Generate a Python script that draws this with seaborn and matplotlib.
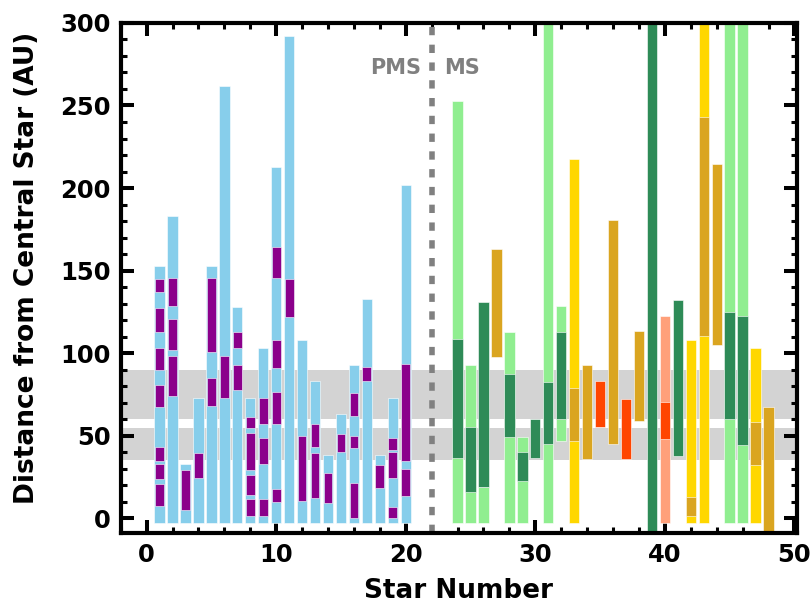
import numpy as np
import pandas as pd
import matplotlib
matplotlib.use("Agg")
import matplotlib.pyplot as plt
import seaborn as sns
from matplotlib.ticker import MultipleLocator

# PMS stars: full sky-blue bars
pms_star = list(range(1, 21))
pms_top = [153, 183, 33, 73, 153, 262, 128, 73, 103, 213,
           292, 108, 83, 38, 63, 93, 133, 38, 73, 202]
bar_floor = -3

# purple segments inside the PMS bars
purple_star = [1, 1, 1, 1, 1, 1, 1,
               2, 2, 2,
               3, 4,
               5, 5,
               6,
               7, 7,
               8, 8, 8, 8,
               9, 9, 9,
               10, 10, 10, 10,
               11, 12,
               13, 13,
               14, 15,
               16, 16, 16,
               17, 18,
               19, 19, 19,
               20, 20]
purple_lo = [137, 112.6, 89.9, 67.3, 34.8, 23.5, 7.3,
             128.4, 102.1, 74.1,
             4.9, 24.1,
             100.4, 68.2,
             73.1,
             103.1, 77.8,
             54.5, 29.2, 14, 1.4,
             57.1, 32.8, 1.4,
             145.2, 90.9, 57.1, 9.9,
             121.9, 10.5,
             43.3, 12,
             9.3, 40.3,
             62, 42.3, 0,
             83.4, 18,
             41.3, 24.1, 0,
             34.8, 13.4]
purple_hi = [144.6, 127.4, 103.1, 80.4, 43, 32.8, 20.7,
             145.2, 120.9, 98.4,
             29.2, 39.3,
             145.2, 85.2,
             98.4,
             112.6, 93,
             61.2, 51.5, 26.1, 11.4,
             73.1, 48.8, 11.4,
             164.2, 107.7, 76.7, 17.6,
             144.6, 49.8,
             57.1, 39.3,
             27.2, 50.9,
             75.7, 49.8, 21.4,
             91.5, 32.2,
             48.8, 39.9, 6.5,
             93.6, 29.8]

# MS stars: outer ranges
ms_star = [24, 25, 26, 28, 29, 31, 32, 33, 40, 42, 43, 45, 46, 47]
ms_lo = [-3, -3, -3, -3, -3, -3, 46.8, -3, -3, -3, -3, -3, -3, -3]
ms_hi = [253, 92.5, 18.6, 113, 49, 310, 128.4, 217.5, 122.7, 107.7, 310, 310, 310, 103]
ms_color = ['#90EE90', '#90EE90', '#90EE90', '#90EE90', '#90EE90', '#90EE90', '#90EE90',
            '#FFD700', '#FFA07A', '#FFD700', '#FFD700', '#90EE90', '#90EE90', '#FFD700']

# MS stars: inner ranges
in_star = [24, 25, 26, 27, 28, 29, 30, 31, 32, 33, 34, 35, 36, 37, 38,
           39, 40, 41, 42, 43, 44, 45, 46, 47, 48]
in_lo = [36.2, 16, 18.6, 97.6, 49, 22.5, 36.2, 44.8, 60, 46.8, 35.8, 55.5, 45, 35.8, 59.1,
         -15, 47.8, 37.7, 1.4, 110.6, 105.1, 60, 44.3, 32.2, -15]
in_hi = [108.5, 55.1, 131, 163.2, 87.3, 40.3, 60, 82.4, 112.6, 78.8, 92.5, 83.4, 180.6, 72.1, 113.2,
         310, 70.3, 132, 12.9, 242.8, 214.5, 124.7, 122.7, 58.1, 67.6]
in_color = ['#2E8B57', '#2E8B57', '#2E8B57', '#DAA520', '#2E8B57', '#2E8B57', '#2E8B57',
            '#2E8B57', '#2E8B57', '#DAA520', '#DAA520', '#FF4500', '#DAA520', '#FF4500',
            '#DAA520', '#2E8B57', '#FF4500', '#2E8B57', '#DAA520', '#DAA520', '#DAA520',
            '#2E8B57', '#2E8B57', '#DAA520', '#DAA520']

bands = [(60, 90), (35.5, 54.5)]

sns.set_style("ticks")
plt.rcParams['font.family'] = ['DejaVu Sans']
plt.rcParams['font.weight'] = 'bold'
for key in ['text.color', 'axes.labelcolor', 'xtick.color', 'ytick.color', 'axes.edgecolor']:
    plt.rcParams[key] = 'black'

fig = plt.figure(figsize=(8.1, 6.04), dpi=100)
ax = fig.add_axes([0.149, 0.1175, 0.835, 0.8445])


def draw_segments(ax, seg, bw):
    seg = seg.sort_values('star', kind='stable').copy()
    seg['k'] = seg.groupby('star').cumcount()
    for (c, k), sub in seg.groupby(['color', 'k'], sort=False):
        xs = np.unique(sub['star'])
        nw = np.diff(xs).min() if len(xs) > 1 else 1
        sns.barplot(x=sub['star'].to_numpy(), y=(sub['hi'] - sub['lo']).to_numpy(),
                    bottom=sub['lo'].to_numpy(), native_scale=True, orient='x',
                    width=bw / nw, color=c, saturation=1, errorbar=None,
                    edgecolor='white', linewidth=0.4, ax=ax)


pms = pd.DataFrame({'star': pms_star, 'lo': bar_floor,
                    'hi': pms_top, 'color': '#87CEEB'})
purple = pd.DataFrame({'star': purple_star, 'lo': purple_lo,
                       'hi': purple_hi, 'color': '#8B008B'})
ms_out = pd.DataFrame({'star': ms_star, 'lo': ms_lo, 'hi': ms_hi, 'color': ms_color})
ms_in = pd.DataFrame({'star': in_star, 'lo': in_lo, 'hi': in_hi, 'color': in_color})

for b in bands:
    ax.axhspan(b[0], b[1], color='#D3D3D3', zorder=0.5, lw=0)

draw_segments(ax, pms, 0.8)
draw_segments(ax, purple, 0.68)
draw_segments(ax, ms_out, 0.8)
draw_segments(ax, ms_in, 0.8)

ax.axvline(22, color='#808080', lw=4, ls=(0, (1.5, 1.7)), zorder=3)
ax.text(21.15, 273, 'PMS', ha='right', va='center', color='#808080',
        fontsize=15, fontweight='bold')
ax.text(23.0, 273, 'MS', ha='left', va='center', color='#808080',
        fontsize=15, fontweight='bold')

ax.set_xlim(-2, 50.2)
ax.set_ylim(-9, 300)
ax.xaxis.set_major_locator(MultipleLocator(10))
ax.xaxis.set_minor_locator(MultipleLocator(2))
ax.yaxis.set_major_locator(MultipleLocator(50))
ax.yaxis.set_minor_locator(MultipleLocator(10))
ax.tick_params(which='both', direction='in', top=True, right=True,
               labelsize=17.5, pad=7)
ax.tick_params(which='major', length=9.5, width=2.9)
ax.tick_params(which='minor', length=4.5, width=2.2)
for lab in ax.get_xticklabels() + ax.get_yticklabels():
    lab.set_fontweight('bold')
for sp in ax.spines.values():
    sp.set_linewidth(3)
    sp.set_zorder(5)

ax.set_xlabel('Star Number', fontsize=18.9, fontweight='bold')
ax.set_ylabel('Distance from Central Star (AU)', fontsize=19, fontweight='bold')
ax.xaxis.set_label_coords(0.5, -0.089)
ax.yaxis.set_label_coords(-0.119, 0.52)

fig.savefig('out.png', dpi=100)
